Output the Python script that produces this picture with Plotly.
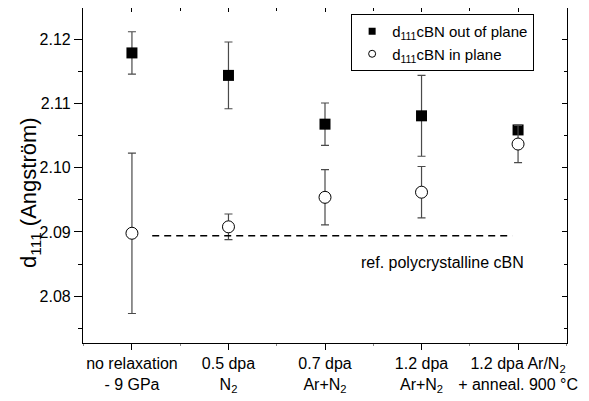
import plotly.graph_objects as go

# ---- data ----
categories = [
    "no relaxation<br>- 9 GPa",
    "0.5 dpa<br>N<sub>2</sub>",
    "0.7 dpa<br>Ar+N<sub>2</sub>",
    "1.2 dpa<br>Ar+N<sub>2</sub>",
    "1.2 dpa Ar/N<sub>2</sub><br>+ anneal. 900 °C",
]
cat_pos = [0, 1, 2, 3, 4]

out_plane = [2.1179, 2.1144, 2.1068, 2.1081, 2.1059]
out_plane_err = [0.0033, 0.0052, 0.0033, 0.0063, 0.0005]

in_plane = [2.0898, 2.0908, 2.0954, 2.0962, 2.1037]
in_plane_err = [0.0125, 0.0020, 0.0043, 0.0040, 0.0029]

ref_value = 2.0894
ref_x = [0.21, 3.94]
ref_label = "ref. polycrystalline cBN"
ref_label_pos = (3.22, 2.0852)

y_ticks = [2.08, 2.09, 2.10, 2.11, 2.12]
y_tick_labels = ["2.08", "2.09", "2.10", "2.11", "2.12"]
y_title = "d<sub>111</sub> (Angström)"

FONT = "Liberation Sans, Arial, sans-serif"
ERR_COLOR = "#4a4a4a"

fig = go.Figure()

# out of plane (filled squares)
fig.add_trace(go.Scatter(
    x=cat_pos, y=out_plane, mode="markers", showlegend=False,
    marker=dict(symbol="square", size=11, color="black"),
    error_y=dict(type="data", array=out_plane_err, visible=True,
                 color=ERR_COLOR, thickness=1.2, width=4),
))
# in plane (open circles)
fig.add_trace(go.Scatter(
    x=cat_pos, y=in_plane, mode="markers", showlegend=False,
    marker=dict(symbol="circle", size=12, color="white",
                line=dict(color="black", width=1)),
    error_y=dict(type="data", array=in_plane_err, visible=True,
                 color=ERR_COLOR, thickness=1.2, width=4),
))
# reference line
fig.add_trace(go.Scatter(
    x=ref_x, y=[ref_value, ref_value], mode="lines", showlegend=False,
    line=dict(color="black", width=1.5, dash="7px,5px"),
))
# legend entries
fig.add_trace(go.Scatter(
    x=[None], y=[None], mode="markers",
    name="d<sub>111</sub>cBN out of plane",
    marker=dict(symbol="square", size=7, color="black"),
))
fig.add_trace(go.Scatter(
    x=[None], y=[None], mode="markers",
    name="d<sub>111</sub>cBN in plane",
    marker=dict(symbol="circle", size=7, color="white",
                line=dict(color="black", width=1)),
))

fig.add_annotation(
    x=ref_label_pos[0], y=ref_label_pos[1], xref="x", yref="y",
    text=ref_label, showarrow=False,
    font=dict(family=FONT, size=16, color="black"),
)
# y-axis title (placed as annotation to match the reference offset)
fig.add_annotation(
    x=-0.1095, y=0.448, xref="paper", yref="paper",
    xanchor="center", yanchor="middle",
    text=y_title, textangle=-90, showarrow=False,
    font=dict(family=FONT, size=22, color="black"),
)

xr = [-0.507, 4.507]
yr = [2.0727, 2.1249]

# page body has an 8px default margin, so the figure is 8px smaller
fig.update_layout(
    width=581, height=393,
    margin=dict(l=75, r=22, t=0, b=58),
    paper_bgcolor="white", plot_bgcolor="white",
    font=dict(family=FONT, size=16, color="black"),
    xaxis=dict(
        range=xr, tickmode="array", tickvals=cat_pos, ticktext=categories,
        showgrid=False, zeroline=False, automargin=False,
        showline=True, linecolor="black", linewidth=1.2,
        ticks="outside", ticklen=6, tickcolor="black", tickwidth=1,
        tickfont=dict(family=FONT, size=16, color="black"),
        minor=dict(ticks="outside", ticklen=2, dtick=0.5, tick0=0.5,
                   tickcolor="#888", showgrid=False),
    ),
    yaxis=dict(
        range=yr, tickmode="array", tickvals=y_ticks, ticktext=y_tick_labels,
        showgrid=False, zeroline=False, automargin=False,
        showline=True, linecolor="black", linewidth=1.2,
        ticks="outside", ticklen=8, tickcolor="black", tickwidth=1,
        tickfont=dict(family=FONT, size=16, color="black"),
        minor=dict(ticks="outside", ticklen=4, dtick=0.005, tick0=2.075,
                   tickcolor="black", showgrid=False),
    ),
    xaxis2=dict(
        range=xr, overlaying="x", side="top", anchor="y",
        tickmode="array", tickvals=cat_pos, showticklabels=False,
        showgrid=False, zeroline=False, automargin=False,
        showline=True, linecolor="black", linewidth=1.2,
        ticks="inside", ticklen=4, tickcolor="black",
        minor=dict(ticks="inside", ticklen=3, dtick=0.5, tick0=0.5,
                   tickcolor="black", showgrid=False),
    ),
    yaxis2=dict(
        range=yr, overlaying="y", side="right", anchor="x",
        tickmode="array", tickvals=y_ticks, showticklabels=False,
        showgrid=False, zeroline=False, automargin=False,
        showline=True, linecolor="black", linewidth=1.2,
        ticks="inside", ticklen=5, tickcolor="black",
        minor=dict(ticks="inside", ticklen=3, dtick=0.005, tick0=2.075,
                   tickcolor="black", showgrid=False),
    ),
    legend=dict(
        x=0.554, y=0.982, xanchor="left", yanchor="top",
        bordercolor="black", borderwidth=1, bgcolor="white",
        font=dict(family=FONT, size=15, color="black"),
        tracegroupgap=0, itemwidth=30,
    ),
)

# invisible trace to anchor the mirror axes
fig.add_trace(go.Scatter(x=[None], y=[None], xaxis="x2", yaxis="y2",
                         showlegend=False, hoverinfo="skip"))

fig.write_html("out.html")
